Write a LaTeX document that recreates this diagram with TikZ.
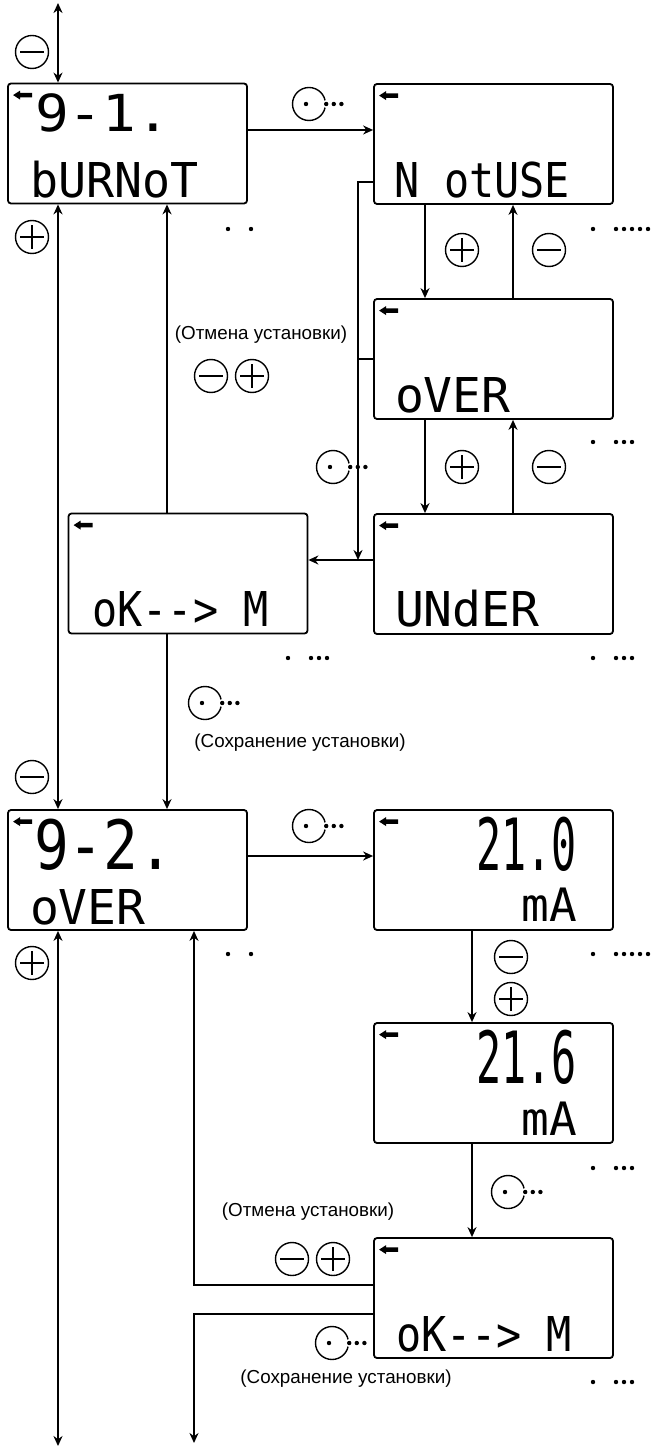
\documentclass[tikz,border=0pt]{standalone}
\usepackage{fontspec}
\setmainfont{Liberation Sans}
\newfontfamily\lcdfont{DejaVu Sans Mono}
\usepackage{graphicx}
\usepackage{tikz}
\usetikzlibrary{positioning,arrows.meta,calc}

% segment text: size, horizontal scale, text
\newcommand{\seg}[3]{\scalebox{#2}[1]{\fontsize{#1}{#1}\selectfont\lcdfont #3}}
% small arrow in the corner of a display
\newcommand{\lcdarrow}[1]{%
  \fill ($(#1.north west)+(6,12.5)$) -- ++(7,-4.5) -- ++(0,2.3) -- ++(12,0)
    -- ++(0,4.4) -- ++(-12,0) -- ++(0,2.3) -- cycle;}
% enter key with its dots
\newcommand{\okkey}[2]{%
  \node[key] (#1) at (#2) {};
  \fill[white] (#1.east) circle (2pt);
  \fill ([xshift=-1.5pt]#1.center) circle (1.1pt)
    (#1.east) circle (1.1pt) ++(3.8pt,0) circle (1.1pt) ++(3.8pt,0) circle (1.1pt);}
% blinking dots
\newcommand{\blink}[3]{%
  \fill (#1,#2) circle (1.1pt);
  \foreach \k in {1,...,#3} {\fill (#1+15+8*\k,#2) circle (1.1pt);}}

\begin{document}
\begin{tikzpicture}[
  x=0.5pt, y=-0.5pt, line width=0.9pt,
  lcdbox/.style={draw, rounded corners=1.5pt,
    minimum width=119.5pt, minimum height=60pt, inner sep=0pt},
  seg/.style={inner sep=0pt, anchor=base west},
  segr/.style={inner sep=0pt, anchor=base east},
  note/.style={font=\fontsize{9.4}{11}\selectfont, inner sep=0pt},
  key/.style={circle, draw, line width=0.7pt, minimum size=16.5pt, inner sep=0pt},
  keyminus/.style={key, path picture={
    \draw[line width=0.7pt] ([xshift=-6pt]path picture bounding box.center)
      -- ([xshift=6pt]path picture bounding box.center);}},
  keyplus/.style={key, path picture={
    \draw[line width=0.7pt] ([xshift=-6pt]path picture bounding box.center)
      -- ([xshift=6pt]path picture bounding box.center)
      ([yshift=-6pt]path picture bounding box.center)
      -- ([yshift=6pt]path picture bounding box.center);}},
  arr/.style={-{Stealth[length=5pt,width=4.5pt]}},
  dblarr/.style={{Stealth[length=5pt,width=4.5pt]}-{Stealth[length=5pt,width=4.5pt]}}
]
\useasboundingbox (0,0) rectangle (650,1454);

% displays
\node[lcdbox] (b91) at (127.5,143.5) {};
\node[lcdbox] (notuse) at (493.5,144) {};
\node[lcdbox] (over) at (493.5,359) {};
\node[lcdbox] (under) at (493.5,574) {};
\node[lcdbox] (okA) at (188,573.5) {};
\node[lcdbox] (b92) at (127.5,870) {};
\node[lcdbox] (v210) at (493.5,870) {};
\node[lcdbox] (v216) at (493.5,1083) {};
\node[lcdbox] (okB) at (493.5,1298) {};

\foreach \b in {b91,notuse,over,under,okA,b92,v210,v216,okB} {\lcdarrow{\b}}

\node[seg] (b91num) at ($(b91.north west)+(27,49)$) {\seg{25.5}{1.1}{9-1.}};
\node[seg] (b91txt) at ($(b91.north west)+(22,115)$) {\seg{24}{0.97}{bURNoT}};
\node[seg] (notusetxt) at ($(notuse.north west)+(20,114)$) {\seg{24}{0.87}{N otUSE}};
\node[seg] (overtxt) at ($(over.north west)+(21,114)$) {\seg{24}{1}{oVER}};
\node[seg] (undertxt) at ($(under.north west)+(21,113)$) {\seg{24}{1}{UNdER}};
\node[seg] (okAtxt) at ($(okA.north west)+(24,114)$) {\seg{24}{0.87}{oK-{}-> M}};
\node[seg] (b92num) at ($(b92.north west)+(26,60)$) {\seg{34}{0.85}{9-2.}};
\node[seg] (b92txt) at ($(b92.north west)+(22,115)$) {\seg{24}{1}{oVER}};
\node[segr] (v210num) at ($(v210.north east)+(-36,61)$) {\seg{36}{0.58}{21.0}};
\node[segr] (v210unit) at ($(v210.north east)+(-36,112)$) {\seg{23}{1}{mA}};
\node[segr] (v216num) at ($(v216.north east)+(-36,61)$) {\seg{36}{0.58}{21.6}};
\node[segr] (v216unit) at ($(v216.north east)+(-36,113)$) {\seg{23}{1}{mA}};
\node[seg] (okBtxt) at ($(okB.north west)+(22,114)$) {\seg{24}{0.87}{oK-{}-> M}};

% notes
\node[note] (cancelA) at (261,335) {(Отмена установки)};
\node[note] (saveA) at (300,743) {(Сохранение установки)};
\node[note] (cancelB) at (308,1212) {(Отмена установки)};
\node[note] (saveB) at (346,1379) {(Сохранение установки)};

% keys
\node[keyminus] (mTop) at (32,52) {};
\node[keyplus] (pLeftA) at (32,237) {};
\node[keyminus] (mLeftB) at (32,777) {};
\node[keyplus] (pLeftB) at (32,963) {};
\node[keyplus] (pNU) at (462,250) {};
\node[keyminus] (mNU) at (549,250) {};
\node[keyplus] (pOU) at (462,467) {};
\node[keyminus] (mOU) at (549,467) {};
\node[keyminus] (mCanA) at (211,376) {};
\node[keyplus] (pCanA) at (252,376) {};
\node[keyminus] (mCanB) at (292,1259) {};
\node[keyplus] (pCanB) at (333,1259) {};
\node[keyminus] (mVal) at (511,957) {};
\node[keyplus] (pVal) at (511,999) {};
\okkey{okSel}{309,104}
\okkey{okJn}{333,467}
\okkey{okSaveA}{205,703}
\okkey{okSel2}{309,826}
\okkey{okVal}{508,1192}
\okkey{okSaveB}{332,1343}

% blinking
\blink{228}{229}{1}
\blink{593}{229}{5}
\blink{593}{442}{3}
\blink{593}{658}{3}
\blink{288}{658}{3}
\blink{228}{954}{1}
\blink{593}{954}{5}
\blink{593}{1168}{3}
\blink{593}{1382}{3}

% connectors
\coordinate (topend) at (58,3);
\coordinate (botend) at (58,1446);
\coordinate (colM) at (167,0);
\coordinate (colJ) at (358,560);
\coordinate (colP) at (425,0);
\coordinate (colN) at (513,0);
\coordinate (colV) at (472,0);
\coordinate (colQ) at (194,0);
\coordinate (qend) at (194,1443);

\draw[dblarr] (topend) -- (topend |- b91.north);
\draw[dblarr] (b91.south -| topend) -- (b92.north -| topend);
\draw[dblarr] (b92.south -| topend) -- (botend);
\draw[arr] ($(b91.east)+(0,-13.5)$) -- ($(notuse.west)+(0,-14)$);
\draw[arr] (notuse.south -| colP) -- (over.north -| colP);
\draw[arr] (over.north -| colN) -- (notuse.south -| colN);
\draw[arr] (over.south -| colP) -- (under.north -| colP);
\draw[arr] (under.north -| colN) -- (over.south -| colN);
\draw[arr] ($(notuse.west)+(0,38)$) -| (colJ);
\draw (over.west) -- (over.west -| colJ);
\draw[arr] (under.west |- colJ) -- (okA.east |- colJ);
\draw[arr] (okA.north -| colM) -- (b91.south -| colM);
\draw[arr] (okA.south -| colM) -- (b92.north -| colM);
\draw[arr] ($(b92.east)+(0,-14)$) -- ($(v210.west)+(0,-14)$);
\draw[arr] (v210.south -| colV) -- (v216.north -| colV);
\draw[arr] (v216.south -| colV) -- (okB.north -| colV);
\draw[arr] ($(okB.west)+(0,-13)$) -| (b92.south -| colQ);
\draw[arr] ($(okB.west)+(0,16)$) -| (qend);

\end{tikzpicture}
\end{document}
